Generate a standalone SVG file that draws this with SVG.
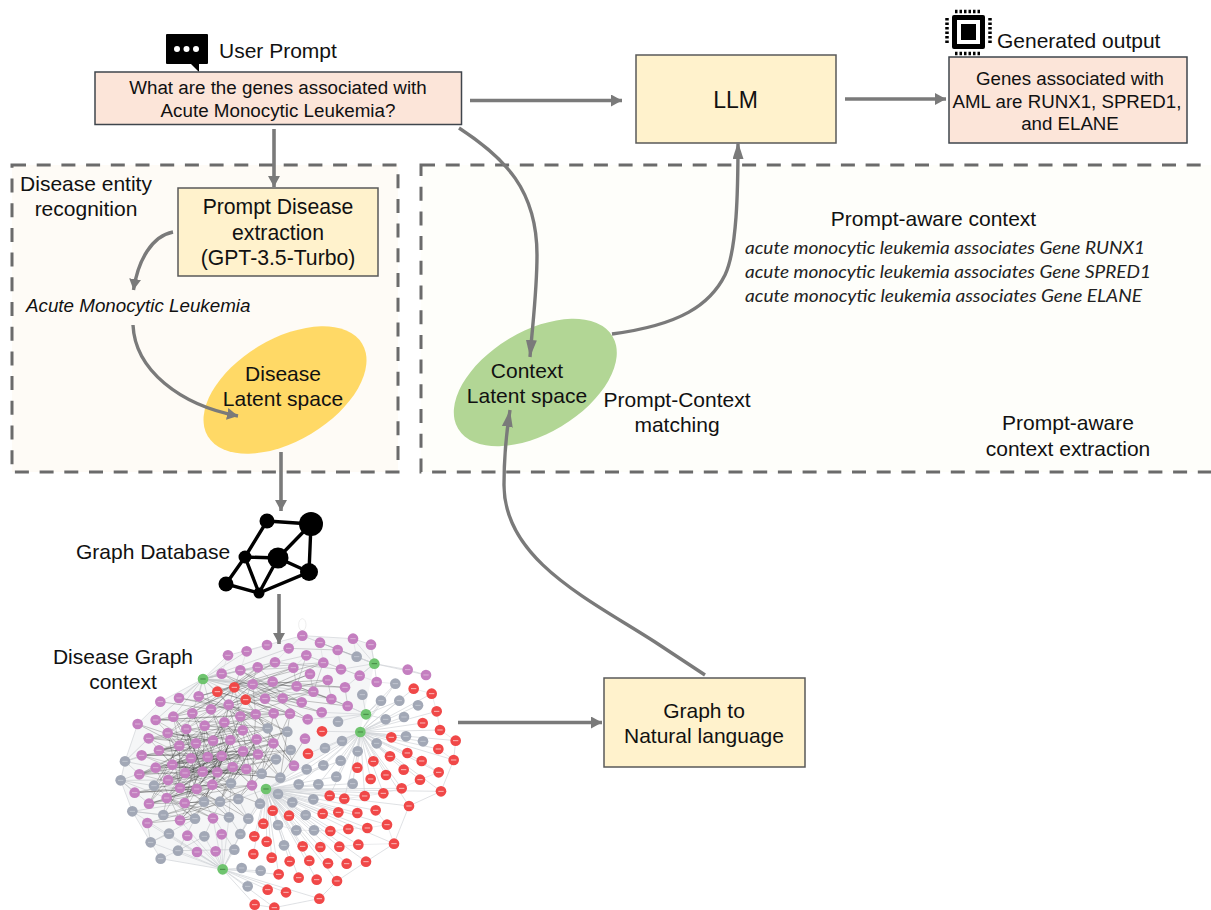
<svg xmlns="http://www.w3.org/2000/svg" width="1211" height="910" viewBox="0 0 1211 910">
<style>
text{font-family:"Liberation Sans",Arial,sans-serif;fill:#111;text-anchor:middle}
.s{text-anchor:start}
.panel{stroke:#6b6b6b;stroke-width:3;stroke-dasharray:14 10.7}
.box{fill:#fff2cc;stroke:#595959;stroke-width:1.5}
.pink{fill:#fce5d9;stroke:#3f454c;stroke-width:1.5}
.a{fill:none;stroke:#7a7a7a;stroke-width:3.6;marker-end:url(#h)}
.c{fill:none;stroke:#7a7a7a;stroke-width:3.4;marker-end:url(#h2)}
.i{font-family:Lato,"Open Sans",sans-serif;font-style:italic;font-size:18px;fill:#222}
.ic{stroke:#000;stroke-width:3.4;fill:none}
</style>
<defs>
<marker id="h" markerUnits="userSpaceOnUse" markerWidth="12" markerHeight="13" refX="11" refY="6" orient="auto"><path d="M0 0L11 6L0 12Z" fill="#7a7a7a"/></marker>
<marker id="h2" markerUnits="userSpaceOnUse" markerWidth="18" markerHeight="13" refX="17" refY="5.500" orient="auto"><path d="M0 0L17 5.500L0 11Z" fill="#7a7a7a"/></marker>
<g id="P"><circle r="16" fill="#c47fc0"/><path d="M-8 0h16" stroke="#e8cfe6" stroke-width="2"/></g>
<g id="G"><circle r="16" fill="#a2a8b6"/><path d="M-8 0h16" stroke="#d0d4dc" stroke-width="2"/></g>
<g id="R"><circle r="16" fill="#f04848"/><path d="M-8 0h16" stroke="#fbd0d0" stroke-width="2.500"/></g>
<g id="N"><circle r="16" fill="#6fc46f"/><path d="M-8 0h16" stroke="#2f6a2f" stroke-width="2"/></g>
</defs>
<rect width="1211" height="910" fill="#fff"/>

<g id="panel-disease"><rect x="12" y="165" width="386" height="307" fill="#fefbf6" class="panel"/></g>
<g id="panel-context"><rect x="421" y="165" width="810" height="307" fill="#fefefa" class="panel"/></g>

<g id="disease-latent"><ellipse cx="285" cy="390" rx="90" ry="51" transform="rotate(-31 285 390)" fill="#ffd966"/>
<text x="283" y="381" font-size="21">Disease</text><text x="283" y="406" font-size="21">Latent space</text></g>
<g id="context-latent"><ellipse cx="535.3" cy="382.5" rx="90" ry="51" transform="rotate(-31 535.3 382.5)" fill="#b2d695"/>
<text x="527" y="378" font-size="21">Context</text><text x="527" y="403" font-size="21">Latent space</text></g>

<g id="user-prompt">
<path d="M167 34h40a1 1 0 0 1 1 1v28a1 1 0 0 1-1 1h-8v8l-8-8h-24a1 1 0 0 1-1-1v-28a1 1 0 0 1 1-1z" fill="#000"/>
<circle cx="177" cy="49" r="3" fill="#fff"/><circle cx="186.5" cy="49" r="3" fill="#fff"/><circle cx="196" cy="49" r="3" fill="#fff"/>
<text class="s" x="219" y="58" font-size="21">User Prompt</text>
<rect x="95" y="72" width="366.500" height="52.500" class="pink"/>
<text x="278" y="94" font-size="18.800">What are the genes associated with</text>
<text x="278" y="116.500" font-size="18.800">Acute Monocytic Leukemia?</text></g>

<g id="llm"><rect x="636" y="55" width="200" height="88" class="box"/><text x="735.500" y="108" font-size="23">LLM</text></g>

<g id="generated-output">
<rect x="952" y="15" width="33" height="34" rx="2" fill="#000"/><rect x="957" y="20" width="23" height="24" fill="#fff"/><rect x="961" y="24" width="15" height="16" fill="#000"/>
<path d="M955 11.500h27M955 53.500h27M947 18v27M990 18v27" stroke="#000" stroke-width="3.500" stroke-dasharray="2.500 2" fill="none"/>
<text class="s" x="997" y="48" font-size="21">Generated output</text>
<rect x="949" y="57" width="238" height="86" class="pink"/>
<text x="1070" y="85" font-size="18.700">Genes associated with</text>
<text x="1067" y="107.500" font-size="18.700">AML are RUNX1, SPRED1,</text>
<text x="1070" y="130" font-size="18.700">and ELANE</text></g>

<g id="prompt-disease-extraction"><rect x="178" y="188" width="200" height="88" class="box"/>
<text x="278" y="214" font-size="21.200">Prompt Disease</text><text x="278" y="240" font-size="21.200">extraction</text><text x="278" y="265" font-size="21.200">(GPT-3.5-Turbo)</text></g>

<g id="disease-entity-label"><text x="86" y="191" font-size="21">Disease entity</text><text x="86" y="216" font-size="21">recognition</text></g>
<g id="disease-name"><text class="s" x="26" y="312" font-size="18.800" font-style="italic">Acute Monocytic Leukemia</text></g>

<g id="prompt-aware-context"><text x="933.500" y="226" font-size="21">Prompt-aware context</text>
<text class="i s" x="745" y="254" textLength="400" lengthAdjust="spacingAndGlyphs">acute monocytic leukemia associates Gene RUNX1</text>
<text class="i s" x="745" y="278" textLength="406" lengthAdjust="spacingAndGlyphs">acute monocytic leukemia associates Gene SPRED1</text>
<text class="i s" x="745" y="302" textLength="397" lengthAdjust="spacingAndGlyphs">acute monocytic leukemia associates Gene ELANE</text></g>
<g id="prompt-context-label"><text x="677" y="407" font-size="21">Prompt-Context</text><text x="677" y="432" font-size="21">matching</text></g>
<g id="extraction-label"><text x="1068" y="430" font-size="21">Prompt-aware</text><text x="1068" y="456" font-size="21">context extraction</text></g>

<g id="graph-database"><text class="s" x="76" y="559" font-size="21">Graph Database</text>
<path class="ic" d="M267 521L311 524M267 521L245 557L226 584L259 593L309 572L311 524M311 524L278 558M245 557L278 558L309 572M245 557L259 593L278 558"/>
<circle cx="267" cy="521" r="7.500"/><circle cx="311" cy="524" r="12"/><circle cx="245" cy="557" r="6.500"/><circle cx="278" cy="558" r="10.500"/><circle cx="309" cy="572" r="9"/><circle cx="226" cy="584" r="7.500"/><circle cx="259" cy="593" r="5.500"/></g>

<g id="graph-to-nl"><rect x="604" y="678" width="201" height="89" class="box"/>
<text x="704" y="718" font-size="21">Graph to</text><text x="704" y="743" font-size="21">Natural language</text></g>

<g id="disease-graph-context"><text x="123" y="664" font-size="21">Disease Graph</text><text x="123" y="689" font-size="21">context</text>
<g transform="translate(100 620) scale(.33333)">
<ellipse cx="607" cy="14" rx="11" ry="18" fill="none" stroke="#ddd" stroke-width="1.500"/>
<path fill="#eceef0" opacity=".55" d="M113 312L181 245L309 177L384 106L501 75L607 47L759 56L813 74L823 131L781 336L498 507L368 748L182 716L97 574L62 481L75 424Z"/>
<path fill="none" stroke="#cfd2d6" stroke-width="2" d="M781 336L941 206M781 336L995 221M781 336L1010 274M781 336L968 309M781 336L1020 330M781 336L874 352M781 336L1067 362M781 336L1015 387M781 336L870 409M781 336L922 399M781 336L965 423M781 336L1061 420M781 336L820 424M781 336L772 443M781 336L911 449M781 336L1016 457M781 336L858 465M781 336L812 477M781 336L960 479M781 336L905 505M781 336L1023 514M781 336L850 520M781 336L794 528M781 336L927 558M781 336L733 536M781 336L689 527M781 336L886 191M781 336L843 242M781 336L898 242M781 336L954 256M781 336L857 298M781 336L912 291M781 336L918 349M781 336L969 364M781 336L830 370M781 336L726 363M781 336L675 384M781 336L773 394M781 336L620 448M781 336L670 436M781 336L722 422M781 336L709 470M781 336L758 491M781 336L596 493M781 336L655 493M781 336L624 401M781 336L666 334M781 336L498 507M498 507L518 572M498 507L567 587M498 507L668 581M498 507L715 577M498 507L772 579M498 507L827 571M498 507L861 614M498 507L490 611M498 507L691 633M498 507L745 627M498 507L802 624M498 507L463 649M498 507L500 665M498 507L608 679M498 507L661 681M498 507L718 680M498 507L775 674M498 507L882 671M498 507L460 702M498 507L515 713M498 507L569 724M498 507L628 722M498 507L684 730M498 507L740 731M498 507L798 725M498 507L536 763M498 507L596 773M498 507L650 779M498 507L711 783M498 507L534 522M498 507L577 547M498 507L640 538M498 507L617 585M498 507L534 615M498 507L589 631M498 507L642 631M498 507L552 676M498 507L445 596M498 507L480 551M498 507L415 537M498 507L620 448M498 507L670 436M498 507L722 422M498 507L709 470M498 507L758 491M498 507L596 493M498 507L655 493M498 507L689 527M498 507L733 536M498 507L794 528M498 507L850 520M498 507L905 505M498 507L927 558M498 507L1023 514M368 748L403 689M368 748L421 642M368 748L425 744M368 748L482 752M368 748L443 799M368 748L503 809M368 748L558 817M368 748L464 854M368 748L523 863M368 748L658 836M368 748L536 763M368 748L347 694M368 748L291 696M368 748L234 692M368 748L182 716M368 748L152 667M368 748L207 641M368 748L262 647M368 748L313 649M368 748L365 643M368 748L387 592M368 748L445 596M368 748L339 595M368 748L240 601M368 748L142 609M368 748L97 574M823 131L923 149M823 131L978 165M823 131L813 74M823 131L759 56M823 131L660 68M823 131L713 90M823 131L770 110M823 131L779 167M823 131L830 186M823 131L723 148M823 131L735 202M823 131L607 47M798 283L886 191M798 283L787 224M798 283L694 237M798 283L743 258M798 283L665 277M798 283L623 298M798 283L714 305M798 283L843 242M798 283L898 242M798 283L857 298M923 149L978 165M882 671L927 558M927 558L1023 514M1023 514L1061 420M1061 420L1067 362M882 671L798 725M798 725L711 783M711 783L658 836M658 836L523 863M523 863L464 854M182 716L234 692M182 716L152 667M152 667L97 574M97 574L62 481M62 481L75 424M75 424L113 312M113 312L181 245M181 245L309 177M309 177L384 106M384 106L501 75M501 75L607 47M607 47L759 56M759 56L813 74"/>
<path fill="none" stroke="#bfc2c6" stroke-width="1.800" d="M309 177L440 94M309 177L365 161M309 177L421 151M309 177L473 142M309 177L525 127M309 177L566 85M309 177L619 106M309 177L237 234M309 177L296 229M309 177L277 280M309 177L220 290M309 177L167 300M309 177L333 268M309 177L386 254M309 177L458 193M309 177L518 185M309 177L590 199M309 177L403 202M309 177L352 215M309 177L437 239M309 177L548 235M309 177L640 215M309 177L694 237M75 424L238 377M75 424L146 355M75 424L125 406M75 424L118 463M75 424L167 443M62 481L204 480M62 481L167 443M62 481L104 518M62 481L162 497M62 481L200 534M62 481L147 551M97 574L190 585M97 574L285 596M97 574L254 549M152 667L207 641M152 667L285 596M152 667L142 609M234 692L285 596M234 692L313 649M234 692L403 689M403 689L312 545M421 642L360 545M421 642L480 551M445 596L415 537M387 592L393 490M313 649L360 545"/>
<path fill="none" stroke="#333" stroke-width="1.200" opacity=".7" d="M181 245L333 268L167 300L373 307L146 355L428 331L177 391L470 358L125 406L474 403L118 463L439 447L104 518L456 496L147 551L337 494L240 601L398 441L200 534L365 408L255 459L323 411L204 480L273 415L167 443L288 370L162 497L238 377L240 504L203 339L290 507L259 327L308 455L314 317L352 457L391 360L312 545L429 394L360 545L470 358L393 490L520 370L415 537L528 418L485 461L373 307L541 473L421 289L582 437L467 283L562 335L386 254L503 325L437 239L521 280L403 202L570 281L352 215L623 298L458 193L605 247L421 151L548 235L365 161L495 236L333 268L473 142L277 280L525 127L220 290L580 143L296 229L670 128L386 254L630 162L437 239L683 180L458 193L735 202L518 185L694 237L590 199L743 258L548 235L665 277L495 236L640 215L421 289L296 229L467 283L237 234L521 280L167 300L570 281L373 307L503 325L314 317L428 331L259 327L391 360L203 339L339 362L146 355L288 370L113 312L238 377L177 391L429 394L125 406L365 408L217 434L474 403L273 415L118 463L323 411L167 443L398 441L204 480L439 447L255 459L352 457L162 497L308 455L240 504L337 494L104 518L290 507L200 534L393 490L147 551L254 549L312 545L190 585L360 545L240 601L285 596L142 609L415 537L254 549L339 595L200 534L387 592L290 507L445 596L337 494L480 551L456 496L360 545L398 441L485 461L308 455L541 473L352 457L528 418L273 415L503 325L177 391L467 283L118 463L391 360L217 434L562 335L255 459L572 390L323 411L520 370L204 480L470 358L240 504L429 394L337 494L365 408L290 507L428 331L200 534L373 307L254 549L314 317L147 551L259 327L308 455L220 290L352 457L277 280L398 441L333 268L439 447L386 254L474 403L421 289L456 496L467 283L582 437L521 280L485 461L570 281L541 473L615 356"/>
<path fill="none" stroke="#222" stroke-width="1" opacity=".6" d="M273 415L314 317L238 377L339 362L203 339L323 411L288 370L255 459L365 408L308 455L217 434L352 457L398 441L290 507L439 447L337 494L393 490L240 504L360 545L204 480L312 545L254 549L285 596L200 534L190 585L240 504L162 497L285 596L312 545L167 443L240 601L290 507L147 551L273 415L200 534L323 411L254 549L365 408L312 545L391 360L290 507L373 307L337 494L421 289L352 457L386 254L339 362L437 239L373 307L403 202L421 289L352 215L386 254L458 193L467 283L403 202L333 268L437 239L314 317L386 254L259 327L333 268L203 339L277 280L238 377L220 290L288 370L167 300L273 415L146 355L217 434L177 391L308 455L125 406L255 459L118 463L290 507L167 443L337 494L217 434L393 490L273 415L415 537L323 411L485 461L365 408L456 496L398 441L528 418L429 394L520 370L470 358L562 335"/>
<path fill="none" stroke="#8d9094" stroke-width="1.200" d="M437 239L605 247M403 202L518 185M352 215L458 193M421 151L580 143M473 142L670 128M525 127L723 148M566 85L713 90M619 106L779 167M660 68L770 110M473 142L519 185M458 193L495 236M518 185L548 235M580 143L590 199M630 162L640 215M683 180L694 237M735 202L743 258M437 239L473 142M403 202L421 151M386 254L458 193M333 268L403 202M296 229L352 215M619 106L590 199M670 128L640 215"/>
<path fill="none" stroke="#d5d7da" stroke-width="1.500" d="M607 47L566 85M607 47L660 68M501 75L440 94M440 94L421 151M384 106L365 161M566 85L525 127M619 106L580 143M660 68L670 128M713 90L723 148M759 56L770 110M813 74L823 131M830 186L779 167M886 191L830 186M941 206L995 221M995 221L1010 274M1010 274L1020 330M1020 330L1067 362M1015 387L1061 420M965 423L1016 457M960 479L1016 457M905 505L960 479M850 520L905 505M794 528L850 520M733 536L794 528M827 571L861 614M861 614L882 671M775 674L882 671M718 680L775 674M802 624L861 614M745 627L802 624M691 633L745 627M642 631L691 633M589 631L642 631M534 615L589 631"/>
<g id="graph-nodes">
<use href="#P" x="607" y="47"/><use href="#P" x="501" y="75"/><use href="#P" x="440" y="94"/><use href="#P" x="384" y="106"/><use href="#P" x="566" y="85"/><use href="#P" x="660" y="68"/><use href="#P" x="759" y="56"/><use href="#P" x="813" y="74"/><use href="#P" x="713" y="90"/><use href="#P" x="619" y="106"/><use href="#P" x="525" y="127"/><use href="#P" x="473" y="142"/><use href="#P" x="421" y="151"/><use href="#P" x="365" y="161"/><use href="#P" x="580" y="143"/><use href="#P" x="670" y="128"/><use href="#P" x="723" y="148"/><use href="#P" x="630" y="162"/><use href="#P" x="683" y="180"/><use href="#P" x="779" y="167"/><use href="#P" x="830" y="186"/><use href="#P" x="923" y="149"/><use href="#P" x="978" y="165"/><use href="#P" x="518" y="185"/><use href="#P" x="458" y="193"/><use href="#P" x="590" y="199"/><use href="#P" x="735" y="202"/><use href="#P" x="640" y="215"/><use href="#P" x="694" y="237"/><use href="#P" x="548" y="235"/><use href="#P" x="495" y="236"/><use href="#P" x="605" y="247"/><use href="#P" x="743" y="258"/><use href="#P" x="237" y="234"/><use href="#P" x="181" y="245"/><use href="#P" x="296" y="229"/><use href="#P" x="386" y="254"/><use href="#P" x="333" y="268"/><use href="#P" x="277" y="280"/><use href="#P" x="220" y="290"/><use href="#P" x="167" y="300"/><use href="#P" x="113" y="312"/><use href="#P" x="467" y="283"/><use href="#P" x="521" y="280"/><use href="#P" x="570" y="281"/><use href="#P" x="665" y="277"/><use href="#P" x="623" y="298"/><use href="#P" x="421" y="289"/><use href="#P" x="373" y="307"/><use href="#P" x="314" y="317"/><use href="#P" x="259" y="327"/><use href="#P" x="203" y="339"/><use href="#P" x="146" y="355"/><use href="#P" x="428" y="331"/><use href="#P" x="391" y="360"/><use href="#P" x="339" y="362"/><use href="#P" x="288" y="370"/><use href="#P" x="238" y="377"/><use href="#P" x="177" y="391"/><use href="#P" x="125" y="406"/><use href="#P" x="470" y="358"/><use href="#P" x="520" y="370"/><use href="#P" x="615" y="356"/><use href="#P" x="429" y="394"/><use href="#P" x="474" y="403"/><use href="#P" x="365" y="408"/><use href="#P" x="323" y="411"/><use href="#P" x="273" y="415"/><use href="#P" x="217" y="434"/><use href="#P" x="167" y="443"/><use href="#P" x="118" y="463"/><use href="#P" x="398" y="441"/><use href="#P" x="439" y="447"/><use href="#P" x="352" y="457"/><use href="#P" x="308" y="455"/><use href="#P" x="255" y="459"/><use href="#P" x="204" y="480"/><use href="#P" x="582" y="437"/><use href="#P" x="456" y="496"/><use href="#P" x="337" y="494"/><use href="#P" x="290" y="507"/><use href="#P" x="240" y="504"/><use href="#P" x="104" y="518"/><use href="#P" x="200" y="534"/><use href="#P" x="147" y="551"/><use href="#P" x="254" y="549"/><use href="#P" x="240" y="601"/><use href="#P" x="142" y="609"/><use href="#P" x="339" y="595"/><use href="#P" x="262" y="647"/><use href="#P" x="365" y="643"/><use href="#P" x="291" y="696"/><use href="#P" x="347" y="694"/>
<use href="#G" x="770" y="110"/><use href="#G" x="886" y="191"/><use href="#G" x="787" y="224"/><use href="#G" x="843" y="242"/><use href="#G" x="898" y="242"/><use href="#G" x="954" y="256"/><use href="#G" x="857" y="298"/><use href="#G" x="912" y="291"/><use href="#G" x="714" y="305"/><use href="#G" x="503" y="325"/><use href="#G" x="562" y="335"/><use href="#G" x="918" y="349"/><use href="#G" x="969" y="364"/><use href="#G" x="726" y="363"/><use href="#G" x="830" y="370"/><use href="#G" x="572" y="390"/><use href="#G" x="675" y="384"/><use href="#G" x="773" y="394"/><use href="#G" x="528" y="418"/><use href="#G" x="620" y="448"/><use href="#G" x="670" y="436"/><use href="#G" x="722" y="422"/><use href="#G" x="75" y="424"/><use href="#G" x="62" y="481"/><use href="#G" x="485" y="461"/><use href="#G" x="541" y="473"/><use href="#G" x="709" y="470"/><use href="#G" x="758" y="491"/><use href="#G" x="596" y="493"/><use href="#G" x="655" y="493"/><use href="#G" x="393" y="490"/><use href="#G" x="162" y="497"/><use href="#G" x="534" y="522"/><use href="#G" x="480" y="551"/><use href="#G" x="577" y="547"/><use href="#G" x="640" y="538"/><use href="#G" x="415" y="537"/><use href="#G" x="360" y="545"/><use href="#G" x="312" y="545"/><use href="#G" x="97" y="574"/><use href="#G" x="190" y="585"/><use href="#G" x="285" y="596"/><use href="#G" x="387" y="592"/><use href="#G" x="617" y="585"/><use href="#G" x="445" y="596"/><use href="#G" x="534" y="615"/><use href="#G" x="589" y="631"/><use href="#G" x="642" y="631"/><use href="#G" x="421" y="642"/><use href="#G" x="207" y="641"/><use href="#G" x="313" y="649"/><use href="#G" x="152" y="667"/><use href="#G" x="552" y="676"/><use href="#G" x="403" y="689"/><use href="#G" x="234" y="692"/><use href="#G" x="182" y="716"/><use href="#G" x="425" y="744"/><use href="#G" x="482" y="752"/><use href="#G" x="443" y="799"/>
<use href="#R" x="403" y="202"/><use href="#R" x="352" y="215"/><use href="#R" x="437" y="239"/><use href="#R" x="941" y="206"/><use href="#R" x="995" y="221"/><use href="#R" x="1010" y="274"/><use href="#R" x="968" y="309"/><use href="#R" x="1020" y="330"/><use href="#R" x="666" y="334"/><use href="#R" x="874" y="352"/><use href="#R" x="1067" y="362"/><use href="#R" x="1015" y="387"/><use href="#R" x="624" y="401"/><use href="#R" x="870" y="409"/><use href="#R" x="922" y="399"/><use href="#R" x="965" y="423"/><use href="#R" x="1061" y="420"/><use href="#R" x="820" y="424"/><use href="#R" x="772" y="443"/><use href="#R" x="911" y="449"/><use href="#R" x="1016" y="457"/><use href="#R" x="858" y="465"/><use href="#R" x="812" y="477"/><use href="#R" x="960" y="479"/><use href="#R" x="905" y="505"/><use href="#R" x="1023" y="514"/><use href="#R" x="850" y="520"/><use href="#R" x="794" y="528"/><use href="#R" x="689" y="527"/><use href="#R" x="733" y="536"/><use href="#R" x="927" y="558"/><use href="#R" x="518" y="572"/><use href="#R" x="567" y="587"/><use href="#R" x="668" y="581"/><use href="#R" x="715" y="577"/><use href="#R" x="772" y="579"/><use href="#R" x="827" y="571"/><use href="#R" x="861" y="614"/><use href="#R" x="490" y="611"/><use href="#R" x="691" y="633"/><use href="#R" x="745" y="627"/><use href="#R" x="802" y="624"/><use href="#R" x="463" y="649"/><use href="#R" x="500" y="665"/><use href="#R" x="608" y="679"/><use href="#R" x="661" y="681"/><use href="#R" x="718" y="680"/><use href="#R" x="775" y="674"/><use href="#R" x="882" y="671"/><use href="#R" x="460" y="702"/><use href="#R" x="515" y="713"/><use href="#R" x="569" y="724"/><use href="#R" x="628" y="722"/><use href="#R" x="684" y="730"/><use href="#R" x="740" y="731"/><use href="#R" x="798" y="725"/><use href="#R" x="536" y="763"/><use href="#R" x="596" y="773"/><use href="#R" x="650" y="779"/><use href="#R" x="711" y="783"/><use href="#R" x="503" y="809"/><use href="#R" x="558" y="817"/><use href="#R" x="464" y="854"/><use href="#R" x="523" y="863"/><use href="#R" x="658" y="836"/>
<use href="#N" x="309" y="177"/><use href="#N" x="823" y="131"/><use href="#N" x="798" y="283"/><use href="#N" x="781" y="336"/><use href="#N" x="498" y="507"/><use href="#N" x="368" y="748"/>
</g></g></g>

<g id="connectors">
<path class="a" d="M470 100.500H622"/>
<path class="a" d="M845 99H946"/>
<path class="a" d="M274 129V187"/>
<path class="c" style="marker-end:url(#h)" d="M173 232C152 236 138 260 133.500 290"/>
<path class="c" style="marker-end:url(#h)" d="M133 325C135 370 180 405 238 416"/>
<path class="a" d="M281 452V511"/>
<path class="a" d="M279 594V644"/>
<path class="c" d="M459 128C505 158 537 190 537 255C537 290 533 320 530 357"/>
<path class="c" d="M612 334C680 325 710 305 725 275C737 250 738 190 738 142"/>
<path class="c" d="M705 675L655 642C590 600 504 560 504 485C504 460 506 435 510 410"/>
<path class="a" d="M458 722.500H602"/>
</g>
</svg>
